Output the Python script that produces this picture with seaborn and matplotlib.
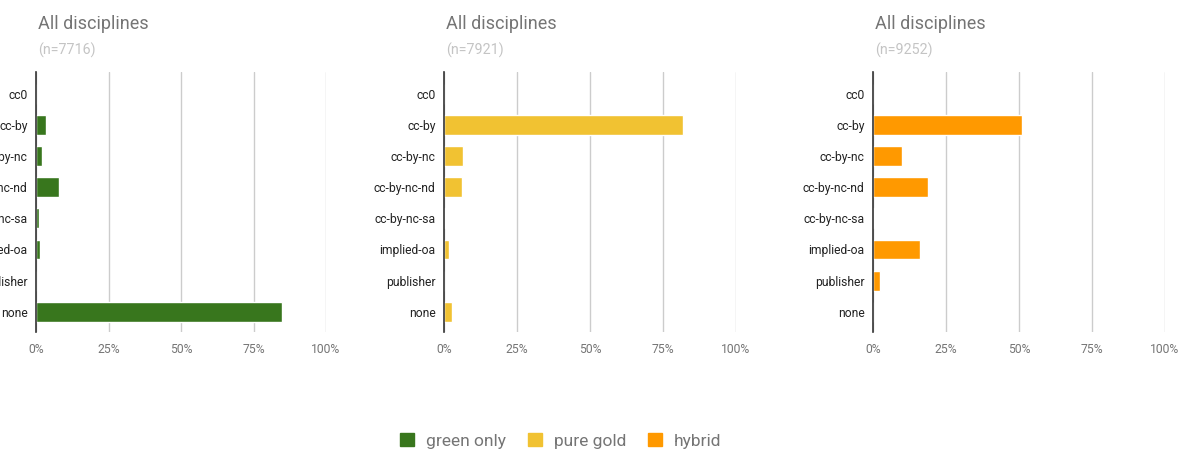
import matplotlib
matplotlib.use("Agg")
import matplotlib.pyplot as plt
import matplotlib.patches as mpatches
from matplotlib.ticker import PercentFormatter
import pandas as pd
import seaborn as sns

licenses = ["cc0", "cc-by", "cc-by-nc", "cc-by-nc-nd", "cc-by-nc-sa", "implied-oa", "publisher", "none"]
green_only = [0.0, 3.5, 2.0, 8.0, 1.0, 1.4, 0.0, 84.8]
pure_gold = [0.0, 81.8, 6.4, 6.0, 0.4, 1.7, 0.0, 2.9]
hybrid = [0.0, 51.1, 9.9, 19.0, 0.5, 16.2, 2.3, 0.0]
series_names = ["green only", "pure gold", "hybrid"]
sample_sizes = [7716, 7921, 9252]
colors = ["#38761d", "#f1c232", "#ff9900"]

sns.set_theme(style="white")
plt.rcParams["font.family"] = ["Roboto", "DejaVu Sans"]

fig = plt.figure(figsize=(11.85, 4.51), dpi=100)
W, H = 1185, 451
lefts = [36, 444, 873]
widths = [290, 292, 292]

for i, vals in enumerate([green_only, pure_gold, hybrid]):
    df = pd.DataFrame({"license": licenses, "share": vals})
    ax = fig.add_axes([lefts[i] / W, (H - 332) / H, widths[i] / W, 260 / H])
    sns.barplot(data=df, x="share", y="license", orient="h", color=colors[i],
                width=0.64, ax=ax, saturation=1)
    ax.set_xlim(0, 100)
    ax.set_ylim(7.65, -0.7)
    ax.set_xticks([0, 25, 50, 75, 100])
    ax.xaxis.set_major_formatter(PercentFormatter(decimals=0))
    ax.grid(axis="x", color="#cccccc", linewidth=1)
    ax.set_axisbelow(True)
    for s in ["top", "right", "bottom"]:
        ax.spines[s].set_visible(False)
    ax.spines["left"].set_color("#333333")
    ax.spines["left"].set_linewidth(1.2)
    ax.spines["left"].set_zorder(5)
    ax.tick_params(axis="y", length=0, labelsize=8.7, labelcolor="#222222", pad=6)
    ax.tick_params(axis="x", length=0, labelsize=8.7, labelcolor="#757575", pad=8)
    ax.set_xlabel("")
    ax.set_ylabel("")
    fig.text((lefts[i] + 2) / W, 1 - 24 / H, "All disciplines", fontsize=13,
             color="#757575", va="center", ha="left")
    fig.text((lefts[i] + 2) / W, 1 - 50 / H, f"(n={sample_sizes[i]})", fontsize=10.3,
             color="#c4c4c4", va="center", ha="left")

handles = [mpatches.Patch(color=c, label=n) for c, n in zip(colors, series_names)]
fig.legend(handles=handles, loc="center", bbox_to_anchor=(561 / W, 1 - 441 / H), ncol=3,
           frameon=False, fontsize=12.5, labelcolor="#757575", handlelength=0.8,
           handleheight=0.8, columnspacing=1.25, handletextpad=0.7)

fig.savefig("out.png", dpi=100)
